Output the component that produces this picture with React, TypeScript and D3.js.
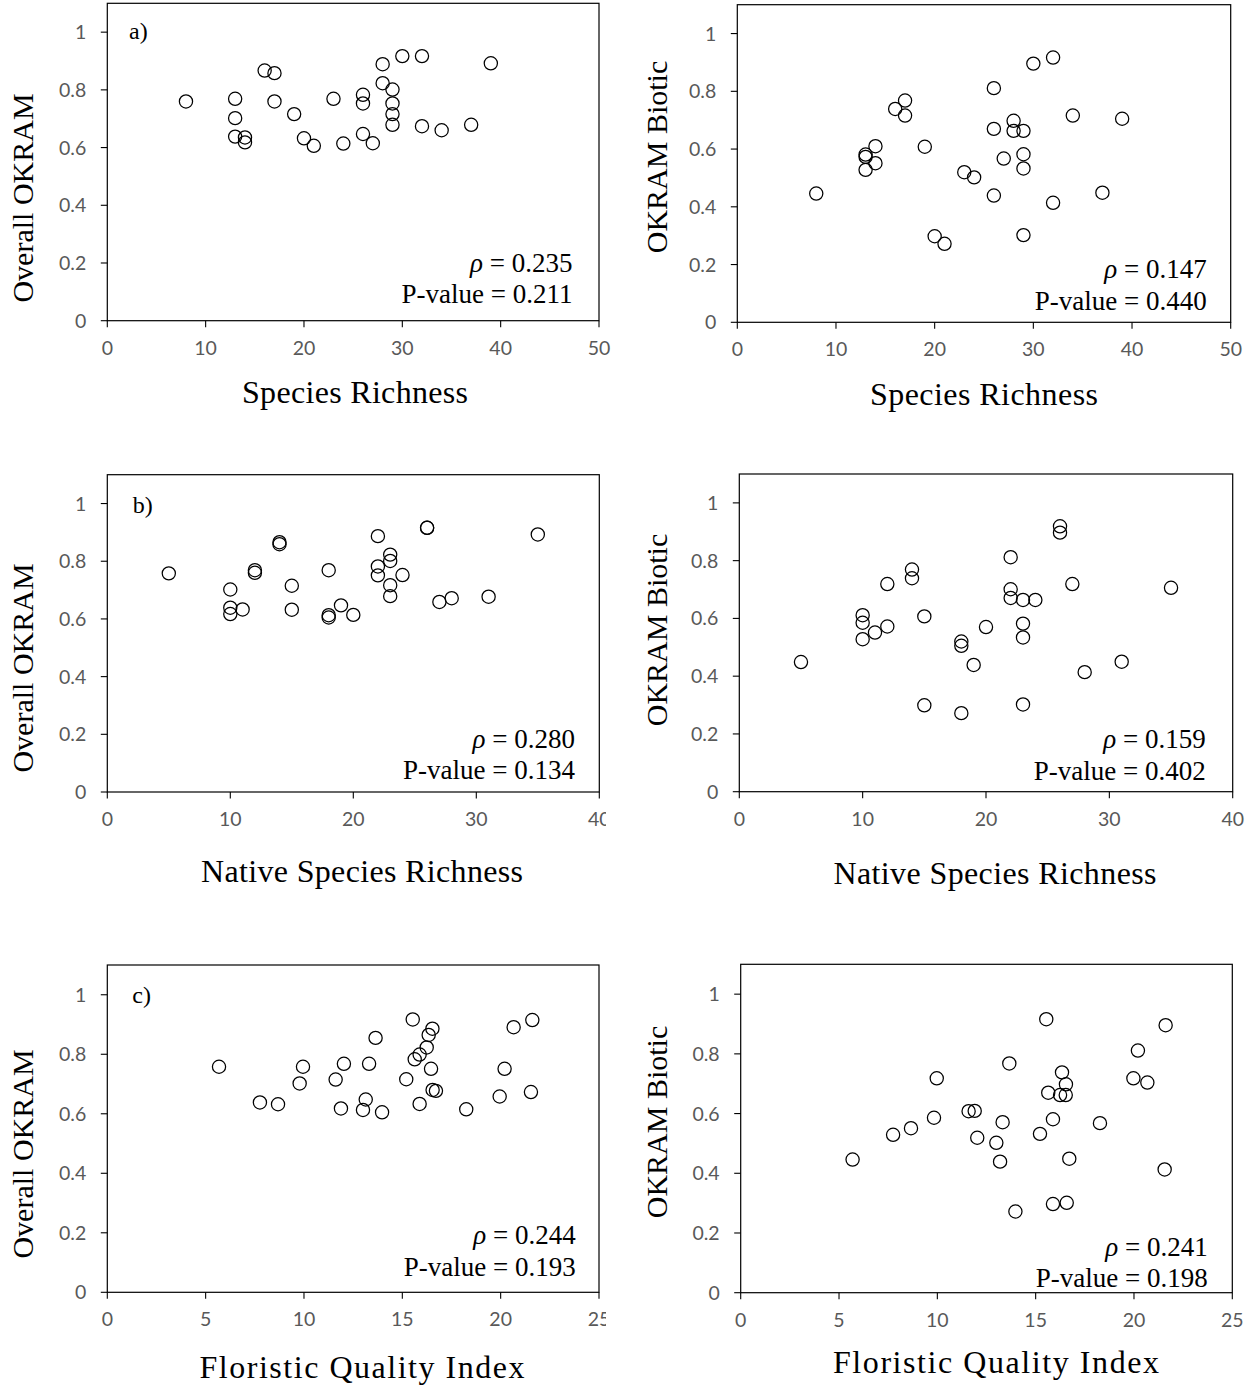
import React from "react";
import * as d3 from "d3";

// Panel a: overall OKRAM vs species richness
const richnessOverall = [8, 13, 13, 13, 14, 14, 16, 17, 17, 19, 20, 21, 23, 24, 26, 26, 26, 27, 28, 28, 29, 29, 29, 29, 30, 32, 32, 34, 37, 39];
const overallByRichness = [0.76, 0.769, 0.702, 0.638, 0.635, 0.618, 0.867, 0.858, 0.76, 0.716, 0.632, 0.606, 0.769, 0.614, 0.783, 0.753, 0.647, 0.615, 0.889, 0.823, 0.801, 0.753, 0.716, 0.679, 0.917, 0.917, 0.674, 0.66, 0.679, 0.892];

// OKRAM biotic vs species richness
const richnessBiotic = [8, 13, 13, 13, 14, 14, 16, 17, 17, 19, 20, 21, 23, 24, 26, 26, 26, 27, 28, 28, 29, 29, 29, 29, 30, 32, 32, 34, 37, 39];
const bioticByRichness = [0.446, 0.581, 0.573, 0.528, 0.61, 0.551, 0.739, 0.768, 0.716, 0.608, 0.298, 0.272, 0.52, 0.502, 0.811, 0.67, 0.439, 0.567, 0.698, 0.663, 0.663, 0.582, 0.533, 0.302, 0.896, 0.917, 0.414, 0.716, 0.449, 0.705];

// Panel b: overall OKRAM vs native species richness
const nativeOverall = [5, 10, 10, 10, 11, 12, 12, 14, 14, 15, 15, 18, 18, 18, 19, 20, 22, 22, 22, 23, 23, 23, 23, 24, 26, 26, 27, 28, 31, 35];
const overallByNative = [0.758, 0.702, 0.639, 0.617, 0.633, 0.769, 0.76, 0.866, 0.859, 0.715, 0.632, 0.769, 0.613, 0.605, 0.647, 0.614, 0.887, 0.782, 0.751, 0.823, 0.801, 0.717, 0.679, 0.752, 0.916, 0.916, 0.659, 0.672, 0.677, 0.893];

// OKRAM biotic vs native species richness
const nativeBiotic = [5, 10, 10, 10, 11, 12, 12, 14, 14, 15, 15, 18, 18, 18, 19, 20, 22, 22, 22, 23, 23, 23, 23, 24, 26, 26, 27, 28, 31, 35];
const bioticByNative = [0.449, 0.611, 0.585, 0.528, 0.551, 0.719, 0.572, 0.769, 0.739, 0.607, 0.299, 0.52, 0.505, 0.272, 0.439, 0.57, 0.812, 0.701, 0.671, 0.664, 0.582, 0.534, 0.302, 0.664, 0.919, 0.897, 0.719, 0.414, 0.45, 0.706];

// Panel c: overall OKRAM vs floristic quality index
const fqiOverall = [5.68, 7.76, 8.68, 9.78, 9.95, 11.61, 11.88, 12.03, 13.0, 13.14, 13.31, 13.64, 13.97, 15.2, 15.53, 15.63, 15.88, 15.88, 16.24, 16.34, 16.53, 16.46, 16.54, 16.71, 18.25, 19.95, 20.2, 20.66, 21.54, 21.61];
const overallByFqi = [0.758, 0.638, 0.632, 0.702, 0.758, 0.715, 0.618, 0.768, 0.613, 0.648, 0.768, 0.855, 0.605, 0.716, 0.917, 0.783, 0.799, 0.633, 0.823, 0.865, 0.886, 0.751, 0.68, 0.677, 0.615, 0.658, 0.751, 0.891, 0.673, 0.915];

// OKRAM biotic vs floristic quality index
const fqiBiotic = [5.69, 7.75, 8.66, 9.83, 9.97, 11.59, 11.9, 12.03, 13.0, 13.19, 13.32, 13.66, 13.97, 15.22, 15.54, 15.64, 15.88, 15.88, 16.24, 16.34, 16.54, 16.53, 16.58, 16.71, 18.27, 19.97, 20.2, 20.68, 21.56, 21.61];
const bioticByFqi = [0.446, 0.529, 0.551, 0.586, 0.718, 0.608, 0.609, 0.519, 0.502, 0.439, 0.571, 0.768, 0.272, 0.532, 0.916, 0.67, 0.581, 0.297, 0.662, 0.738, 0.698, 0.662, 0.301, 0.449, 0.568, 0.718, 0.811, 0.704, 0.413, 0.896];

// Spearman statistics printed in each panel
const rhoValues = ["0.235", "0.147", "0.280", "0.159", "0.244", "0.241"];
const pValues = ["0.211", "0.440", "0.134", "0.402", "0.193", "0.198"];

const yTicks = [0, 0.2, 0.4, 0.6, 0.8, 1];
const yLabels = ["0", "0.2", "0.4", "0.6", "0.8", "1"];
const richnessTicks = [0, 10, 20, 30, 40, 50];
const nativeTicks = [0, 10, 20, 30, 40];
const fqiTicks = [0, 5, 10, 15, 20, 25];

const SERIF = "'Liberation Serif', 'Times New Roman', serif";
const SANS = "Lato, 'Noto Sans', sans-serif";

type Spec = {
  id: string;
  xs: number[];
  ys: number[];
  xTicks: number[];
  left: number;
  right: number;
  top: number;
  bottom: number;
  yTitle: string;
  yTitleX: number;
  yTitleY: number;
  xTitle: string;
  xTitleX: number;
  xTitleY: number;
  xTitleLen: number;
  tag?: string;
  tagX?: number;
  tagY?: number;
  rho: string;
  p: string;
  statX: number;
  rhoY: number;
  pY: number;
  clipRight?: number;
};

const panels: Spec[] = [
  {
    id: "a1", xs: richnessOverall, ys: overallByRichness, xTicks: richnessTicks,
    left: 107.3, right: 599, top: 3.3, bottom: 320.7,
    yTitle: "Overall OKRAM", yTitleX: 33, yTitleY: 198,
    xTitle: "Species Richness", xTitleX: 355, xTitleY: 403, xTitleLen: 226,
    tag: "a)", tagX: 129, tagY: 39,
    rho: rhoValues[0], p: pValues[0], statX: 572.5, rhoY: 271.7, pY: 303,
  },
  {
    id: "a2", xs: richnessBiotic, ys: bioticByRichness, xTicks: richnessTicks,
    left: 737.3, right: 1230.7, top: 4.7, bottom: 322.3,
    yTitle: "OKRAM Biotic", yTitleX: 667, yTitleY: 157,
    xTitle: "Species Richness", xTitleX: 984, xTitleY: 405, xTitleLen: 228,
    rho: rhoValues[1], p: pValues[1], statX: 1206.7, rhoY: 278.3, pY: 310,
  },
  {
    id: "b1", xs: nativeOverall, ys: overallByNative, xTicks: nativeTicks,
    left: 107.3, right: 599.3, top: 474.7, bottom: 792,
    yTitle: "Overall OKRAM", yTitleX: 33, yTitleY: 668,
    xTitle: "Native Species Richness", xTitleX: 362, xTitleY: 882, xTitleLen: 322,
    tag: "b)", tagX: 132.7, tagY: 513,
    rho: rhoValues[2], p: pValues[2], statX: 575, rhoY: 747.7, pY: 779.3,
    clipRight: 606,
  },
  {
    id: "b2", xs: nativeBiotic, ys: bioticByNative, xTicks: nativeTicks,
    left: 739.3, right: 1232.7, top: 474, bottom: 791.7,
    yTitle: "OKRAM Biotic", yTitleX: 667, yTitleY: 630,
    xTitle: "Native Species Richness", xTitleX: 995, xTitleY: 884, xTitleLen: 323,
    rho: rhoValues[3], p: pValues[3], statX: 1205.7, rhoY: 748.3, pY: 780,
  },
  {
    id: "c1", xs: fqiOverall, ys: overallByFqi, xTicks: fqiTicks,
    left: 107.3, right: 599, top: 965, bottom: 1292.3,
    yTitle: "Overall OKRAM", yTitleX: 33, yTitleY: 1154,
    xTitle: "Floristic Quality Index", xTitleX: 362, xTitleY: 1378, xTitleLen: 325,
    tag: "c)", tagX: 132.3, tagY: 1003,
    rho: rhoValues[4], p: pValues[4], statX: 575.7, rhoY: 1244.3, pY: 1276,
    clipRight: 606,
  },
  {
    id: "c2", xs: fqiBiotic, ys: bioticByFqi, xTicks: fqiTicks,
    left: 740.7, right: 1232.3, top: 964.3, bottom: 1292.7,
    yTitle: "OKRAM Biotic", yTitleX: 667, yTitleY: 1122,
    xTitle: "Floristic Quality Index", xTitleX: 996, xTitleY: 1373, xTitleLen: 326,
    rho: rhoValues[5], p: pValues[5], statX: 1207.7, rhoY: 1255.7, pY: 1286.7,
  },
];

function ScatterPanel({ s }: { s: Spec }) {
  const xMax = s.xTicks[s.xTicks.length - 1];
  const x = d3.scaleLinear().domain([0, xMax]).range([s.left, s.right]);
  const y = d3.scaleLinear().domain([0, 1.1]).range([s.bottom, s.top]);
  const clipId = `clip-${s.id}`;
  const tickLen = 6.5;

  return (
    <g>
      {s.clipRight && (
        <defs>
          <clipPath id={clipId}>
            <rect x={0} y={s.bottom} width={s.clipRight} height={60} />
          </clipPath>
        </defs>
      )}
      <rect
        x={s.left}
        y={s.top}
        width={s.right - s.left}
        height={s.bottom - s.top}
        fill="#fff"
        stroke="#000"
        strokeWidth={1.2}
      />
      {yTicks.map((t, i) => (
        <g key={`y${i}`}>
          <line x1={s.left - tickLen} x2={s.left} y1={y(t)} y2={y(t)} stroke="#000" strokeWidth={1.1} />
          <text
            x={s.left - 21}
            y={y(t)}
            dy="0.36em"
            textAnchor="end"
            fontFamily={SANS}
            fontSize={19.5}
            fill="#595959"
          >
            {yLabels[i]}
          </text>
        </g>
      ))}
      {s.xTicks.map((t) => (
        <line key={`xt${t}`} x1={x(t)} x2={x(t)} y1={s.bottom} y2={s.bottom + tickLen} stroke="#000" strokeWidth={1.1} />
      ))}
      <g clipPath={s.clipRight ? `url(#${clipId})` : undefined}>
        {s.xTicks.map((t) => (
          <text
            key={`xl${t}`}
            x={x(t)}
            y={s.bottom + 34}
            textAnchor="middle"
            fontFamily={SANS}
            fontSize={19.5}
            fill="#595959"
          >
            {t}
          </text>
        ))}
      </g>
      {s.xs.map((v, i) => (
        <circle key={i} cx={x(v)} cy={y(s.ys[i])} r={6.6} fill="none" stroke="#000" strokeWidth={1.25} />
      ))}
      {s.tag && (
        <text x={s.tagX} y={s.tagY} fontFamily={SERIF} fontSize={24} fill="#000">
          {s.tag}
        </text>
      )}
      <text x={s.statX} y={s.rhoY} textAnchor="end" fontFamily={SERIF} fontSize={27} fill="#000">
        <tspan fontStyle="italic">ρ</tspan>
        <tspan> = {s.rho}</tspan>
      </text>
      <text x={s.statX} y={s.pY} textAnchor="end" fontFamily={SERIF} fontSize={27} fill="#000">
        P-value = {s.p}
      </text>
      <text
        transform={`translate(${s.yTitleX},${s.yTitleY}) rotate(-90)`}
        textAnchor="middle"
        fontFamily={SERIF}
        fontSize={30}
        fill="#000"
      >
        {s.yTitle}
      </text>
      <text
        x={s.xTitleX}
        y={s.xTitleY}
        textAnchor="middle"
        fontFamily={SERIF}
        fontSize={32}
        textLength={s.xTitleLen}
        lengthAdjust="spacing"
        fill="#000"
      >
        {s.xTitle}
      </text>
    </g>
  );
}

export default function App() {
  return (
    <div style={{ position: "absolute", left: 0, top: 0 }}>
      <svg width={1259} height={1391} viewBox="0 0 1259 1391" style={{ display: "block", background: "#fff" }}>
        <rect x={0} y={0} width={1259} height={1391} fill="#fff" />
        {panels.map((s) => (
          <ScatterPanel key={s.id} s={s} />
        ))}
      </svg>
    </div>
  );
}
